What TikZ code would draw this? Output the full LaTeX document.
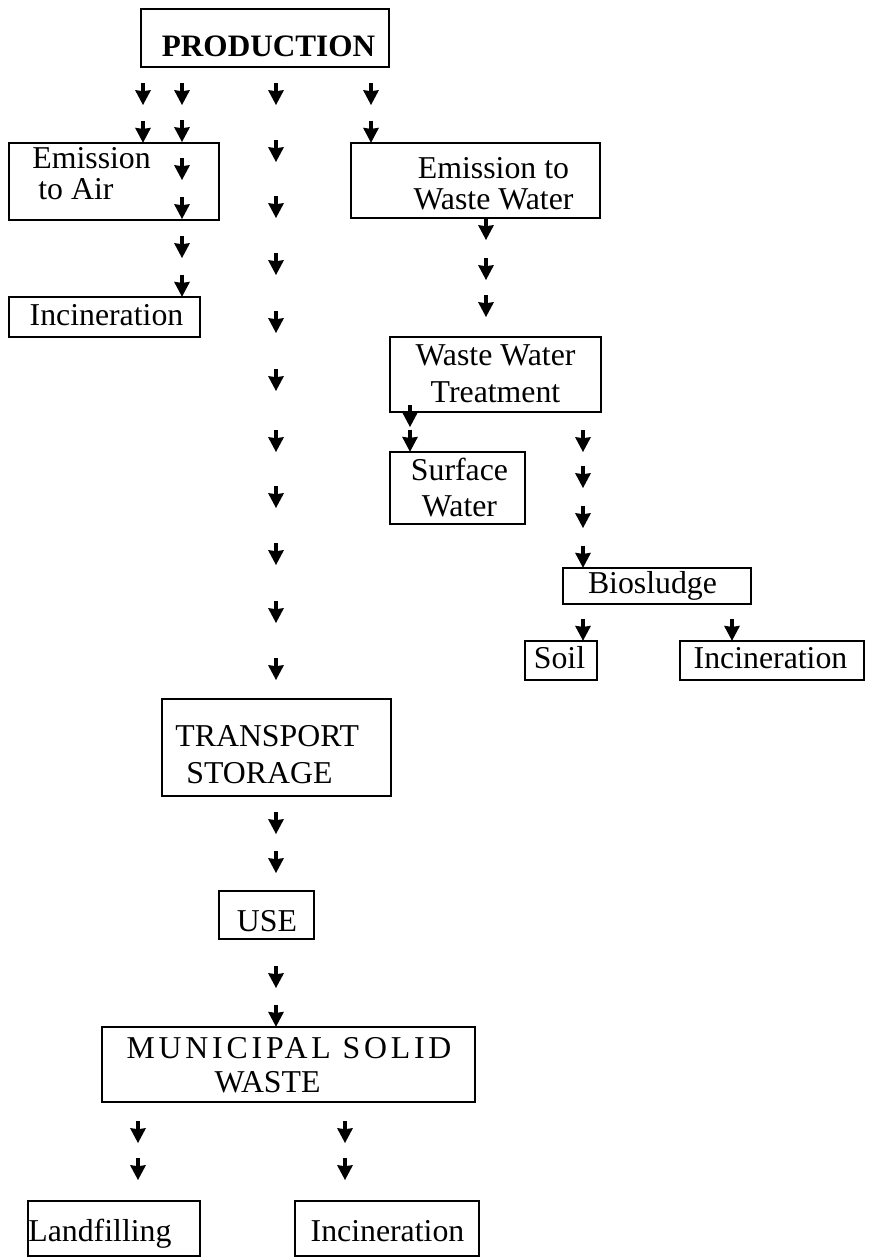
\documentclass[tikz,border=0pt]{standalone}
\usepackage{fontspec}
\setmainfont{Liberation Serif}
\newfontfamily\spreadfont[LetterSpace=12]{Liberation Serif}
\usetikzlibrary{decorations.markings}
\newcommand\glyphdraw{\fill (0pt,0pt) -- (-7.5pt,4pt) -- (-6.9pt,0pt) -- (-7.5pt,-4pt) -- cycle; \draw[line width=2.4pt] (-11pt,0pt) -- (-6.5pt,0pt);}
\pgfkeys{/pgf/decoration/tipat/.style={mark=at position #1*0.5pt with {\glyphdraw}}}
\tikzset{
  box/.style={draw, line width=1pt, inner sep=0pt, outer sep=0pt},
  txt/.style={inner sep=0pt, font=\fontsize{15.9}{18.5}\selectfont},
  chain/.style={postaction={decorate}, decoration={markings, tipat/.list={#1}}},
}
\begin{document}
\begin{tikzpicture}[x=0.5pt,y=-0.5pt]
\useasboundingbox[fill=white] (0,0) rectangle (874,1258);
% boxes
\node[box, minimum width=124pt, minimum height=29pt] (prod) at (265,38) {};
\node[box, minimum width=105pt, minimum height=38.5pt] (air) at (114,181.5) {};
\node[box, minimum width=124.5pt, minimum height=37.5pt] (wwe) at (475.5,180.5) {};
\node[box, minimum width=95.5pt, minimum height=20pt] (incL) at (104.5,317) {};
\node[box, minimum width=105.5pt, minimum height=37.5pt] (wwt) at (495.5,374.5) {};
\node[box, minimum width=67.5pt, minimum height=36pt] (surf) at (457.5,488) {};
\node[box, minimum width=94pt, minimum height=18pt] (bio) at (657,586) {};
\node[box, minimum width=36pt, minimum height=19.5pt] (soil) at (561,660.5) {};
\node[box, minimum width=92pt, minimum height=19.5pt] (incR) at (772,660.5) {};
\node[box, minimum width=114.5pt, minimum height=48.5pt] (trans) at (276.5,747.5) {};
\node[box, minimum width=47.5pt, minimum height=24pt] (use) at (266.5,915) {};
\node[box, minimum width=186.5pt, minimum height=37.5pt] (msw) at (288.5,1064.5) {};
\node[box, minimum width=86pt, minimum height=27.5pt] (land) at (114,1228.5) {};
\node[box, minimum width=92pt, minimum height=27.5pt] (incB) at (387,1228.5) {};
% texts (multi-line nodes anchored at the baseline of their last line)
\node[txt, anchor=base, font=\fontsize{15.6}{18.5}\selectfont\bfseries] (prodT) at (268.5,56) {PRODUCTION};
\node[txt, anchor=base west, align=left, font=\fontsize{15.9}{15.5}\selectfont] (airT) at (32,199) {Emission\\\hspace*{3pt}to Air};
\node[txt, anchor=base, align=center, font=\fontsize{15.9}{15.5}\selectfont] (wweT) at (493.5,209) {Emission to\\Waste Water};
\node[txt, anchor=base] (incLT) at (106.5,325) {Incineration};
\node[txt, anchor=base, align=center] (wwtT) at (495.5,402) {Waste Water\\Treatment};
\node[txt, anchor=base, align=center, font=\fontsize{15.9}{18}\selectfont] (surfT) at (459.5,516) {Surface\\Water};
\node[txt, anchor=base] (bioT) at (652.5,593) {Biosludge};
\node[txt, anchor=base] (soilT) at (559.5,668) {Soil};
\node[txt, anchor=base] (incRT) at (770.5,668) {Incineration};
\node[txt, anchor=base west, align=left] (transT) at (175,783) {TRANSPORT\\\hspace*{5.5pt}STORAGE};
\node[txt, anchor=base] (useT) at (267,931) {USE};
\node[txt, anchor=base, align=center, font=\fontsize{15.9}{17}\selectfont] (mswT) at (289,1092) {{\spreadfont MUNICIPAL SOLID}\\WASTE\hspace*{21.5pt}};
\node[txt, anchor=base west] (landT) at (28,1241) {Landfilling};
\node[txt, anchor=base] (incBT) at (387.5,1241) {Incineration};
% arrow chains
\path[chain={38,75.7}] (prod.south -| 143,0) -- (air.north -| 143,0);
\path[chain={38,75,113,152,191,229.7}] (prod.south -| 182,0) -- (incL.north -| 182,0);
\path[chain={38,95,151,208,266,324,385,441,498,556,613}] (prod.south -| 276,0) -- (trans.north -| 276,0);
\path[chain={38,75.7}] (prod.south -| 371,0) -- (wwe.north -| 371,0);
\path[chain={22,62,99}] (wwe.south -| 486,0) -- (wwt.north -| 486,0);
\path[chain={15,39.7}] (wwt.south -| 410,0) -- (surf.north -| 410,0);
\path[chain={40,76,116,155.7}] (wwt.south -| 583,0) -- (bio.north -| 583,0);
\path[chain={36.7}] (bio.south -| 583,0) -- (soil.north -| 583,0);
\path[chain={36.7}] (bio.south -| 732,0) -- (incR.north -| 732,0);
\path[chain={38,77}] (trans.south -| 276,0) -- (use.north -| 276,0);
\path[chain={49,87.7}] (use.south -| 276,0) -- (msw.north -| 276,0);
\path[chain={41,78}] (msw.south -| 138,0) -- (land.north -| 138,0);
\path[chain={41,78}] (msw.south -| 345,0) -- (incB.north -| 345,0);
\end{tikzpicture}
\end{document}
